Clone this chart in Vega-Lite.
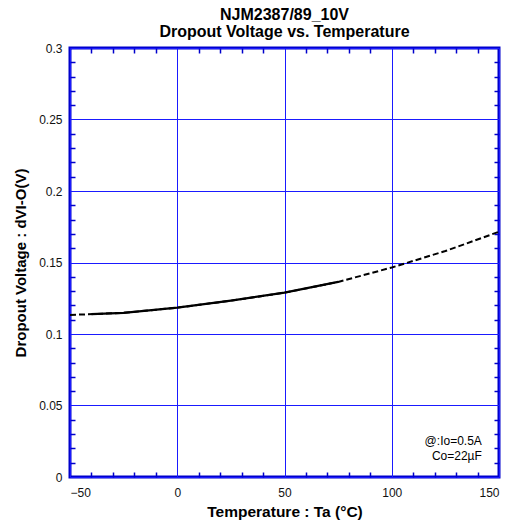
{
  "$schema": "https://vega.github.io/schema/vega-lite/v6.json",
  "width": 429,
  "height": 429,
  "autosize": "none",
  "padding": {"left": 70, "top": 48, "right": 18, "bottom": 50},
  "background": "white",
  "config": {
    "font": "Liberation Sans",
    "view": {"stroke": "#0000CC", "strokeWidth": 3},
    "axis": {"labelFont": "Liberation Sans", "titleFont": "Liberation Sans", "labelColor": "#111", "titleColor": "#000"}
  },
  "title": {
    "text": ["NJM2387/89_10V", "Dropout Voltage vs. Temperature"],
    "font": "Liberation Sans",
    "fontSize": 16,
    "fontWeight": "bold",
    "anchor": "middle",
    "frame": "group",
    "offset": 2,
    "lineHeight": 17,
    "color": "#000"
  },
  "datasets": {
    "dashed": [
      {"T": -50, "V": 0.1133},
      {"T": -25, "V": 0.1148},
      {"T": 0, "V": 0.1184},
      {"T": 25, "V": 0.1233},
      {"T": 50, "V": 0.1289},
      {"T": 75, "V": 0.1364},
      {"T": 100, "V": 0.1465},
      {"T": 125, "V": 0.158},
      {"T": 150, "V": 0.1715}
    ],
    "solid": [
      {"T": -40, "V": 0.1139},
      {"T": -25, "V": 0.1148},
      {"T": 0, "V": 0.1184},
      {"T": 25, "V": 0.1233},
      {"T": 50, "V": 0.1289},
      {"T": 75, "V": 0.1364}
    ],
    "notes": [
      {"T": 142, "V": 0.0252, "label": "@:Io=0.5A"},
      {"T": 142, "V": 0.0147, "label": "Co=22µF"}
    ]
  },
  "layer": [
    {
      "data": {"name": "dashed"},
      "mark": {"type": "line", "color": "#000", "strokeWidth": 2, "strokeDash": [6, 3]},
      "encoding": {
        "x": {
          "field": "T", "type": "quantitative",
          "scale": {"domain": [-50, 150], "nice": false, "zero": false},
          "axis": {
            "orient": "bottom", "values": [-50, 0, 50, 100, 150], "grid": true,
            "gridColor": "#1a1aff", "gridWidth": 1, "gridOpacity": 1, "domain": false,
            "ticks": false, "labelFontSize": 12, "labelPadding": 10,
            "title": "Temperature : Ta (°C)", "titleFontSize": 15.5, "titleFontWeight": "bold", "titlePadding": 6
          }
        },
        "y": {
          "field": "V", "type": "quantitative",
          "scale": {"domain": [0, 0.3], "nice": false, "zero": false},
          "axis": {
            "orient": "left", "values": [0, 0.05, 0.1, 0.15, 0.2, 0.25, 0.3], "format": "~g", "grid": true,
            "gridColor": "#1a1aff", "gridWidth": 1, "gridOpacity": 1, "domain": false,
            "ticks": false, "labelFontSize": 12, "labelPadding": 8,
            "title": "Dropout Voltage : dVI-O(V)", "titleFontSize": 15, "titleFontWeight": "bold", "titlePadding": 10
          }
        }
      }
    },
    {
      "data": {"name": "solid"},
      "mark": {"type": "line", "color": "#000", "strokeWidth": 2.2},
      "encoding": {
        "x": {
          "field": "T", "type": "quantitative",
          "scale": {"domain": [-50, 150], "nice": false, "zero": false},
          "axis": {
            "orient": "bottom", "values": [-40, -30, -20, -10, 10, 20, 30, 40, 60, 70, 80, 90, 110, 120, 130, 140],
            "grid": false, "domain": false, "labels": false, "title": null,
            "ticks": true, "tickSize": -5, "tickColor": "#0000CC", "tickWidth": 1.5
          }
        },
        "y": {
          "field": "V", "type": "quantitative",
          "scale": {"domain": [0, 0.3], "nice": false, "zero": false},
          "axis": {
            "orient": "left", "values": [0.01, 0.02, 0.03, 0.04, 0.06, 0.07, 0.08, 0.09, 0.11, 0.12, 0.13, 0.14, 0.16, 0.17, 0.18, 0.19, 0.21, 0.22, 0.23, 0.24, 0.26, 0.27, 0.28, 0.29],
            "grid": false, "domain": false, "labels": false, "title": null,
            "ticks": true, "tickSize": -5, "tickColor": "#0000CC", "tickWidth": 1.5
          }
        }
      }
    },
    {
      "data": {"name": "notes"},
      "mark": {"type": "text", "align": "right", "baseline": "middle", "fontSize": 12, "font": "Liberation Sans", "color": "#000"},
      "encoding": {
        "x": {
          "field": "T", "type": "quantitative",
          "scale": {"domain": [-50, 150], "nice": false, "zero": false},
          "axis": {
            "orient": "top", "values": [-40, -30, -20, -10, 10, 20, 30, 40, 60, 70, 80, 90, 110, 120, 130, 140],
            "grid": false, "domain": false, "labels": false, "title": null,
            "ticks": true, "tickSize": -5, "tickColor": "#0000CC", "tickWidth": 1.5
          }
        },
        "y": {
          "field": "V", "type": "quantitative",
          "scale": {"domain": [0, 0.3], "nice": false, "zero": false},
          "axis": {
            "orient": "right", "values": [0.01, 0.02, 0.03, 0.04, 0.06, 0.07, 0.08, 0.09, 0.11, 0.12, 0.13, 0.14, 0.16, 0.17, 0.18, 0.19, 0.21, 0.22, 0.23, 0.24, 0.26, 0.27, 0.28, 0.29],
            "grid": false, "domain": false, "labels": false, "title": null,
            "ticks": true, "tickSize": -5, "tickColor": "#0000CC", "tickWidth": 1.5
          }
        },
        "text": {"field": "label"}
      }
    }
  ],
  "resolve": {
    "scale": {"x": "independent", "y": "independent"},
    "axis": {"x": "independent", "y": "independent"}
  }
}
